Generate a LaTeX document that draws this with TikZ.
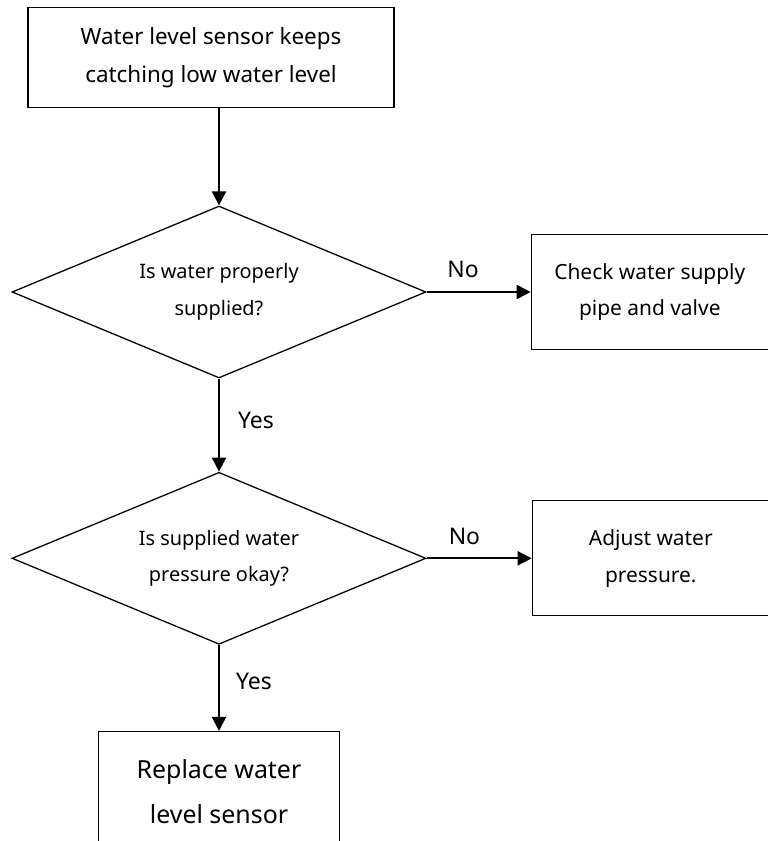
\documentclass[tikz,border=0pt]{standalone}
\usepackage{fontspec}
\setmainfont{Noto Sans}
\usetikzlibrary{arrows.meta,positioning,shapes.geometric}

\begin{document}
\begin{tikzpicture}[
    x=1bp, y=1bp,
    node distance=93bp and 104bp,
    box/.style={draw, line width=1.3bp, align=center, inner sep=0pt},
    decision/.style={draw, diamond, aspect=2.4, line width=1.3bp, align=center, inner sep=0pt,
        minimum width=414bp, minimum height=172bp, font=\fontsize{20}{37}\selectfont},
    sidebox/.style={box, minimum width=237bp, minimum height=115bp, font=\fontsize{21}{37}\selectfont},
    arrow/.style={-{Triangle[length=14bp,width=14bp]}, line width=2bp},
    answer/.style={font=\fontsize{23}{23}\selectfont, inner sep=0pt},
]
    \useasboundingbox (0,0) rectangle (768,-841);

    \node[decision] (supplied) at (219,-292) {Is water properly\\supplied?};
    \node[box, minimum width=366bp, minimum height=100bp, font=\fontsize{22.5}{39}\selectfont,
        above=97bp of supplied, xshift=-8bp] (sensor) {Water level sensor keeps\\catching low water level};
    \node[sidebox, right=104bp of supplied] (pipe) {Check water supply\\pipe and valve};
    \node[decision, below=of supplied] (pressure) {Is supplied water\\pressure okay?};
    \node[sidebox, right=105bp of pressure] (adjust) {Adjust water\\pressure.};
    \node[box, minimum width=241bp, minimum height=120bp, font=\fontsize{25}{46}\selectfont,
        below=86bp of pressure] (replace) {Replace water\\level sensor};

    \draw[arrow] (supplied.north |- sensor.south) -- (supplied.north);
    \draw[arrow] (supplied.east) -- node[answer, pos=0.35, above=13bp] {No} (pipe.west);
    \draw[arrow] (supplied.south) -- node[answer, pos=0.45, right=18bp] {Yes} (pressure.north);
    \draw[arrow] (pressure.east) -- node[answer, pos=0.36, above=13bp] {No} (adjust.west);
    \draw[arrow] (pressure.south) -- node[answer, pos=0.42, right=16bp] {Yes} (replace.north);
\end{tikzpicture}
\end{document}
